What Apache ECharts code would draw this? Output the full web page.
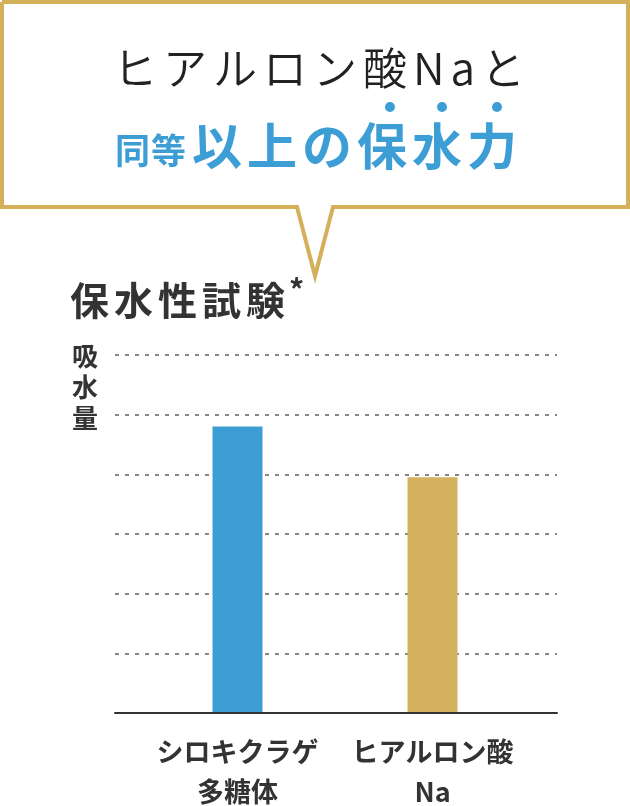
<!DOCTYPE html>
<html>
<head>
<meta charset="utf-8">
<script src="https://cdn.jsdelivr.net/npm/echarts@6/dist/echarts.min.js"></script>
<style>
html,body{margin:0;padding:0;background:#fff;}
#main{width:630px;height:806px;}
</style>
</head>
<body>
<div id="main"></div>
<script>
const categories = ['シロキクラゲ\n多糖体', 'ヒアルロン酸\nNa'];
const values = [4.8, 3.95];
const barColors = ['#3d9dd5', '#d5b35e'];
const yMin = 0, yMax = 6, yInterval = 1;

const FONT = '"Noto Sans CJK JP", "Noto Sans", sans-serif';
const GOLD = '#d4b05b';
const BLUE = '#3d9dd5';

function spaced(str, key) {
  const chars = Array.from(str);
  return chars.map((c, i) => '{' + (i < chars.length - 1 ? key + 'g' : key + 'l') + '|' + c + '}').join('');
}
function spacedRich(key, style, gap) {
  const r = {};
  r[key + 'g'] = Object.assign({}, style, { padding: [0, gap, 0, 0] });
  r[key + 'l'] = Object.assign({}, style);
  return r;
}

const chart = echarts.init(document.getElementById('main'), null, { renderer: 'canvas' });

const line1Style = { fontFamily: FONT, fontSize: 44, fontWeight: 350, fill: '#222' };
const line2Style = { fontFamily: FONT, fontSize: 50, fontWeight: 'bold', fill: BLUE };
const titleStyle = { fontFamily: FONT, fontSize: 39, fontWeight: 'bold', fill: '#333' };

chart.setOption({
  animation: false,
  backgroundColor: '#fff',
  grid: [
    { left: 115, right: 73, top: 355, bottom: 93, outerBoundsMode: 'none' },
    { left: 140, right: 100, top: 355, bottom: 93, outerBoundsMode: 'none' }
  ],
  xAxis: [
    {
      gridIndex: 0, type: 'value', min: 0, max: 1, z: 5,
      axisLine: { show: true, lineStyle: { color: '#333', width: 2 } },
      axisTick: { show: false }, axisLabel: { show: false }, splitLine: { show: false }
    },
    {
      gridIndex: 1, type: 'category', data: categories,
      axisLine: { show: false }, axisTick: { show: false },
      axisLabel: {
        margin: 19, fontFamily: FONT, fontSize: 27, fontWeight: 'bold',
        color: '#333', lineHeight: 40, interval: 0
      }
    }
  ],
  yAxis: [
    {
      gridIndex: 0, type: 'value', min: yMin, max: yMax, interval: yInterval,
      axisLine: { show: false }, axisTick: { show: false }, axisLabel: { show: false },
      splitLine: { show: true, lineStyle: { color: '#888', width: 2, type: [4, 6] } }
    },
    {
      gridIndex: 1, type: 'value', min: yMin, max: yMax, interval: yInterval, show: false,
      splitLine: { show: false }
    }
  ],
  series: [
    {
      type: 'bar', xAxisIndex: 1, yAxisIndex: 1, barWidth: 50, z: 3,
      data: values.map((v, i) => ({ value: v, itemStyle: { color: barColors[i] } }))
    }
  ],
  graphic: [
    {
      type: 'polyline', z: 10,
      shape: { points: [[2, 2], [628, 2], [628, 207], [333, 207], [315, 276], [297, 207], [2, 207], [2, 2]] },
      style: { fill: '#fff', stroke: GOLD, lineWidth: 4, lineJoin: 'miter' }
    },
    {
      type: 'text', z: 11,
      style: {
        x: 319, y: 68, align: 'center', verticalAlign: 'middle',
        text: spaced('ヒアルロン酸Naと', 'a'),
        rich: spacedRich('a', line1Style, 6)
      }
    },
    {
      type: 'text', z: 11,
      style: {
        x: 115, y: 151, align: 'left', verticalAlign: 'middle',
        text: spaced('同等', 'c'),
        rich: spacedRich('c', { fontFamily: FONT, fontSize: 35, fontWeight: 'bold', fill: BLUE }, 1)
      }
    },
    {
      type: 'text', z: 11,
      style: {
        x: 192, y: 146, align: 'left', verticalAlign: 'middle',
        text: spaced('以上の保水力', 'b'),
        rich: spacedRich('b', line2Style, 5)
      }
    },
    { type: 'circle', z: 11, shape: { cx: 390, cy: 107, r: 5 }, style: { fill: BLUE } },
    { type: 'circle', z: 11, shape: { cx: 442, cy: 107, r: 5 }, style: { fill: BLUE } },
    { type: 'circle', z: 11, shape: { cx: 497, cy: 107, r: 5 }, style: { fill: BLUE } },
    {
      type: 'text', z: 11,
      style: {
        x: 70, y: 300, align: 'left', verticalAlign: 'middle',
        text: spaced('保水性試験', 't'),
        rich: spacedRich('t', titleStyle, 5)
      }
    },
    {
      type: 'text', z: 11,
      style: {
        x: 289, y: 290, align: 'left', verticalAlign: 'middle',
        text: '*', fontFamily: FONT, fontSize: 30, fontWeight: 'bold', fill: '#333'
      }
    },
    {
      type: 'text', z: 11,
      style: {
        x: 85, y: 387, align: 'center', verticalAlign: 'middle',
        text: '吸\n水\n量', fontFamily: FONT, fontSize: 26, fontWeight: 'bold',
        fill: '#333', lineHeight: 31
      }
    }
  ]
});
</script>
</body>
</html>
